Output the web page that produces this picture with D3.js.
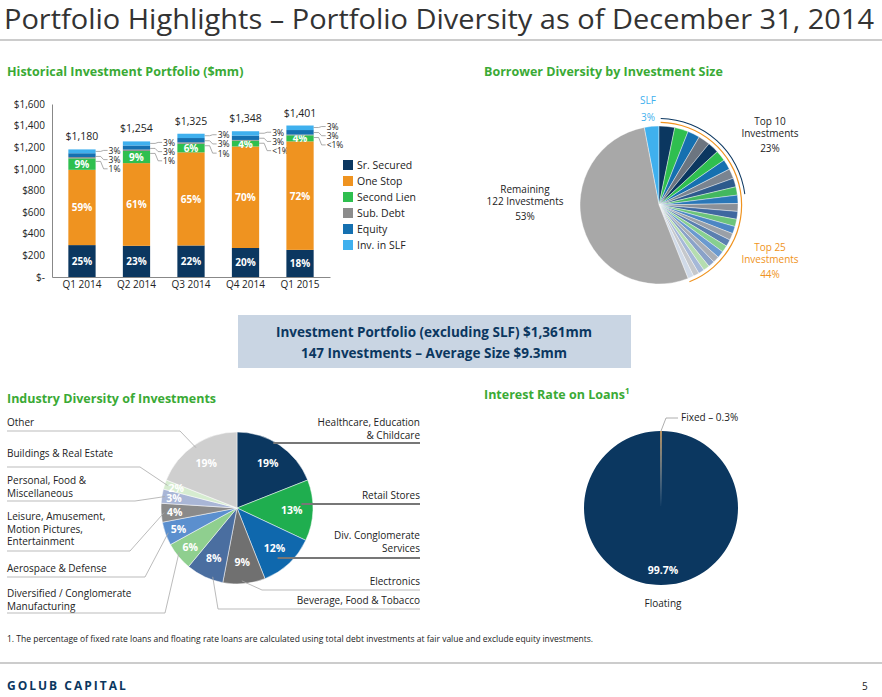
<!DOCTYPE html><html><head><meta charset="utf-8"><script src="https://cdn.jsdelivr.net/npm/d3@7"></script>
<style>body{margin:0;background:#fff}text{font-family:"Open Sans",sans-serif}</style></head><body>
<svg id="c" width="882" height="697"></svg>
<script>
const quarters=["Q1 2014","Q2 2014","Q3 2014","Q4 2014","Q1 2015"];
const totals=[1180,1254,1325,1348,1401];
const segNames=["Sr. Secured","One Stop","Second Lien","Sub. Debt","Equity","Inv. in SLF"];
const srSecured=[25,23,22,20,18];
const oneStop=[59,61,65,70,72];
const secondLien=[9,9,6,4,4];
const subDebt=[1,1,1,0.5,0.5];
const equity=[3,3,3,3,3];
const slf=[3,3,3,3,3];
const subLabels=["1%","1%","1%","<1%","<1%"];
const yTicks=[0,200,400,600,800,1000,1200,1400,1600];
const borrowerTop25=[3.2,2.8,2.5,2.4,2.3,2.2,2.1,2.0,1.8,1.7,1.7,1.6,1.6,1.5,1.5,1.4,1.4,1.4,1.4,1.3,1.3,1.3,1.2,1.2,1.2];
const borrowerSLF=3, borrowerRemaining=53;
const industries=["Healthcare, Education & Childcare","Retail Stores","Div. Conglomerate Services","Electronics","Beverage, Food & Tobacco","Diversified / Conglomerate Manufacturing","Aerospace & Defense","Leisure, Amusement, Motion Pictures, Entertainment","Personal, Food & Miscellaneous","Buildings & Real Estate","Other"];
const industryPct=[19,13,12,9,8,6,5,4,3,2,19];
const rateNames=["Fixed","Floating"];
const ratePct=[0.3,99.7];

const svg=d3.select("#c");
const green="#3aaa35";
svg.append("text").attr("x",4).attr("y",29).attr("font-size",27).attr("textLength",870).attr("lengthAdjust","spacingAndGlyphs").attr("fill","#333").text("Portfolio Highlights – Portfolio Diversity as of December 31, 2014");
svg.append("line").attr("x1",0).attr("x2",882).attr("y1",40).attr("y2",40).attr("stroke","#999");
[["Historical Investment Portfolio ($mm)",7,76],["Borrower Diversity by Investment Size",484,76],["Industry Diversity of Investments",7,403],["Interest Rate on Loans",484,399]].forEach(d=>{
 const t=svg.append("text").attr("x",d[1]).attr("y",d[2]).attr("font-size",12.5).attr("font-weight","bold").attr("fill",green).text(d[0]);
 if(d[0].startsWith("Interest")) t.append("tspan").attr("font-size",8).attr("dy",-5).text("1");
});
// Bar chart
const colors=["#0b3760","#ef9320","#2fbf4f","#8c8c8c","#1570b0","#3fb0ee"];
const x=d3.scaleBand().domain(quarters).range([52,330]).paddingInner(0.5).paddingOuter(0.3);
const y=d3.scaleLinear().domain([0,1600]).range([277,104]);
const gA=svg.append("g");
gA.append("g").attr("transform","translate(52,0)").call(d3.axisLeft(y).tickValues(yTicks).tickSize(0).tickFormat(d=>d===0?"$-":"$"+d3.format(",")(d)))
 .call(g=>{g.select(".domain").attr("stroke","#888");g.selectAll("text").attr("font-size",10).attr("fill","#222").attr("font-family","Liberation Sans, Arial").attr("dx",-4);});
gA.append("g").attr("transform","translate(0,277)").call(d3.axisBottom(x).tickSize(0)).call(g=>{g.select(".domain").attr("stroke","#888");g.selectAll("text").attr("font-size",10).attr("fill","#222").attr("font-family","Liberation Sans, Arial").attr("dy",8);});
const series=[srSecured,oneStop,secondLien,subDebt,equity,slf];
quarters.forEach((q,i)=>{
 let cum=0; const sum=series.reduce((a,s)=>a+s[i],0);
 series.forEach((s,k)=>{
  const v0=cum/sum*totals[i], v1=(cum+s[i])/sum*totals[i]; cum+=s[i];
  gA.append("rect").attr("x",x(q)).attr("width",x.bandwidth()).attr("y",y(v1)).attr("height",y(v0)-y(v1)).attr("fill",colors[k]);
  if(k<3){gA.append("text").attr("x",x(q)+x.bandwidth()/2).attr("y",(y(v0)+y(v1))/2+4).attr("text-anchor","middle").attr("font-size",10).attr("font-weight","bold").attr("fill","#fff").text(s[i]+"%");}
 });
 gA.append("text").attr("x",x(q)+x.bandwidth()/2).attr("y",y(totals[i])-9).attr("text-anchor","middle").attr("font-size",10.5).attr("font-family","Liberation Sans, Arial").attr("fill","#222").text("$"+d3.format(",")(totals[i]));
 const xr=x(q)+x.bandwidth(), ty=y(totals[i]);
 const labs=[slf[i]+"%",equity[i]+"%",subLabels[i]];
 const lx=xr+13;
 labs.forEach((l,j)=>{
  const ay=ty+2+j*5, ly=ty+1+j*9.2;
  gA.append("polyline").attr("points",`${xr},${ay} ${xr+5},${ay} ${xr+8},${ly} ${lx-1},${ly}`).attr("fill","none").attr("stroke","#888").attr("stroke-width",0.7);
  gA.append("text").attr("x",lx).attr("y",ly+3.5).attr("font-size",8.5).attr("font-family","Liberation Sans, Arial").attr("fill","#222").text(l);
 });
});
segNames.forEach((n,k)=>{
 gA.append("rect").attr("x",343).attr("y",160+k*16).attr("width",10).attr("height",10).attr("fill",colors[k]);
 gA.append("text").attr("x",357).attr("y",169+k*16).attr("font-size",10.5).attr("font-family","Liberation Sans, Arial").attr("fill","#222").text(n);
});
// Borrower pie
const bcx=659,bcy=205,br=79;
const bVals=[borrowerSLF,...borrowerTop25,borrowerRemaining];
const cyc=["#0b3760","#2fbf4f","#1570b0","#6c7580","#0b3760","#2fbf4f","#1570b0","#7a8490","#2d5a8c","#43b85f","#2a77b8","#8a9098","#3f68a0","#6cc47a","#4c86c4","#9aa0a8","#5a7fb0","#88d090","#6a9ad0","#a9aeb5","#8aa2c8","#b5ddb0","#a5b8d8","#c5c8cc","#d0dae8"];
const bColors=["#3fb0ee",...cyc,"#a8a8a8"];
const tot=d3.sum(bVals);
const off=-borrowerSLF/tot*2*Math.PI;
const bp=d3.pie().sort(null).startAngle(off).endAngle(off+2*Math.PI)(bVals);
const gB=svg.append("g").attr("transform",`translate(${bcx},${bcy})`);
gB.selectAll("path").data(bp).join("path").attr("d",d3.arc().innerRadius(0).outerRadius(br)).attr("fill",(d,i)=>bColors[i]).attr("stroke","#fff").attr("stroke-width",0.4);
const a23=d3.sum(borrowerTop25.slice(0,10))/tot*2*Math.PI, a44=d3.sum(borrowerTop25)/tot*2*Math.PI;
gB.append("path").attr("d",d3.arc().innerRadius(br+7).outerRadius(br+8).startAngle(0.02).endAngle(a23)()).attr("fill","#0b3760");
gB.append("path").attr("d",d3.arc().innerRadius(br+3).outerRadius(br+4.2).startAngle(0.02).endAngle(a44)()).attr("fill","#ef9320");
const bt=(t,xx,yy,c,a="middle")=>svg.append("text").attr("x",xx).attr("y",yy).attr("text-anchor",a).attr("font-size",10).attr("fill",c).text(t);
bt("SLF",648,104,"#3fb0ee");bt("3%",648,121,"#3fb0ee");
bt("Top 10",770,125,"#222");bt("Investments",770,137,"#222");bt("23%",770,152,"#222");
bt("Top 25",770,251,"#ef9320");bt("Investments",770,263,"#ef9320");bt("44%",770,278,"#ef9320");
bt("Remaining",525,193,"#222");bt("122 Investments",525,205,"#222");bt("53%",525,220,"#222");
// Box
svg.append("rect").attr("x",238).attr("y",315).attr("width",393).attr("height",53).attr("fill","#c9d5e3");
svg.append("text").attr("x",434).attr("y",337).attr("text-anchor","middle").attr("font-size",13.5).attr("font-weight","bold").attr("fill","#0b3760").text("Investment Portfolio (excluding SLF) $1,361mm");
svg.append("text").attr("x",434).attr("y",358).attr("text-anchor","middle").attr("font-size",13.5).attr("font-weight","bold").attr("fill","#0b3760").text("147 Investments  – Average Size $9.3mm");
// Industry pie
const icx=237,icy=508,ir=76;
const iColors=["#0b3760","#1fae4f","#0f68ad","#707070","#4a6ea0","#8fcf8f","#5b8fce","#8a8a8a","#a9b6d6","#d6ecd0","#cfcfcf"];
const ip=d3.pie().sort(null)(industryPct);
const gI=svg.append("g").attr("transform",`translate(${icx},${icy})`);
const iarc=d3.arc().innerRadius(0).outerRadius(ir);
gI.selectAll("path").data(ip).join("path").attr("d",iarc).attr("fill",(d,i)=>iColors[i]).attr("stroke","#fff").attr("stroke-width",0.5);
const labR=[0.72,0.72,0.72,0.72,0.72,0.8,0.82,0.82,0.84,0.84,0.72];
ip.forEach((d,i)=>{const c=d3.arc().innerRadius(ir*labR[i]).outerRadius(ir*labR[i]).centroid(d);
 gI.append("text").attr("x",c[0]).attr("y",c[1]+4).attr("text-anchor","middle").attr("font-size",10.5).attr("font-weight","bold").attr("fill","#fff").text(industryPct[i]+"%");});
const iLab=[
 [["Healthcare, Education","& Childcare"],"r",426,443,0.5,290],
 [["Retail Stores"],"r",499,504,0.55,320],
 [["Div. Conglomerate","Services"],"r",539,558,0.6,300],
 [["Electronics"],"r",585,590,0.55,262],
 [["Beverage, Food & Tobacco"],"r",604,609,0.3,218],
 [["Diversified / Conglomerate","Manufacturing"],"l",597,613,0.6,165],
 [["Aerospace & Defense"],"l",572,577,0.5,145],
 [["Leisure, Amusement,","Motion Pictures,","Entertainment"],"l",520,551,0.5,130],
 [["Personal, Food &","Miscellaneous"],"l",484,501,0.5,135],
 [["Buildings & Real Estate"],"l",457,467,0.5,140],
 [["Other"],"l",426,431,0.5,180]];
iLab.forEach((L,i)=>{
 const d=ip[i], a=d.startAngle+(d.endAngle-d.startAngle)*L[4];
 const rr=i<3?ir*0.85:ir-3;
 const px=icx+Math.sin(a)*rr, py=icy-Math.cos(a)*rr;
 const right=L[1]=="r";
 L[0].forEach((t,j)=>svg.append("text").attr("x",right?420:7).attr("y",L[2]+j*12.5).attr("text-anchor",right?"end":"start").attr("font-size",10).attr("fill","#222").text(t));
 const ux=right?420:7;
 let pts;
 if(i<3) pts=`${px},${L[3]} ${ux},${L[3]}`;
 else pts=`${px},${py} ${L[5]},${L[3]} ${ux},${L[3]}`;
 svg.append("polyline").attr("points",pts).attr("fill","none").attr("stroke",i<3?"#777":"#aaa").attr("stroke-width",i<3?2:0.8);
});
// Interest rate pie
const rcx=661,rcy=508,rr=77;
const rp=d3.pie().sort(null).startAngle(-ratePct[0]/100*Math.PI).endAngle(2*Math.PI-ratePct[0]/100*Math.PI)(ratePct);
const gR=svg.append("g").attr("transform",`translate(${rcx},${rcy})`);
gR.selectAll("path").data(rp).join("path").attr("d",d3.arc().innerRadius(0).outerRadius(rr)).attr("fill",(d,i)=>i==0?"#ef9320":"#0b3760");
svg.append("polyline").attr("points",`${rcx},${rcy-rr} ${rcx+5},${418} ${678},418`).attr("fill","none").attr("stroke","#999").attr("stroke-width",0.8);
svg.append("text").attr("x",681).attr("y",421).attr("font-size",10).attr("fill","#222").text("Fixed – 0.3%");
svg.append("text").attr("x",663).attr("y",574).attr("text-anchor","middle").attr("font-size",10.5).attr("font-weight","bold").attr("fill","#fff").text("99.7%");
svg.append("text").attr("x",663).attr("y",607).attr("text-anchor","middle").attr("font-size",10).attr("fill","#222").text("Floating");
svg.append("text").attr("x",7).attr("y",642).attr("font-size",8.5).attr("font-family","Liberation Serif, serif").attr("fill","#222").text("1.  The percentage of fixed rate loans and floating rate loans are calculated using total debt investments at fair value and exclude equity investments.");
svg.append("line").attr("x1",0).attr("x2",882).attr("y1",663).attr("y2",663).attr("stroke","#999");
svg.append("text").attr("x",7).attr("y",690).attr("font-size",12).attr("font-weight","bold").attr("letter-spacing",2).attr("fill","#0b3760").text("GOLUB CAPITAL");
svg.append("text").attr("x",862).attr("y",690).attr("font-size",10).attr("font-family","Liberation Serif, serif").attr("fill","#222").text("5");
</script></body></html>
